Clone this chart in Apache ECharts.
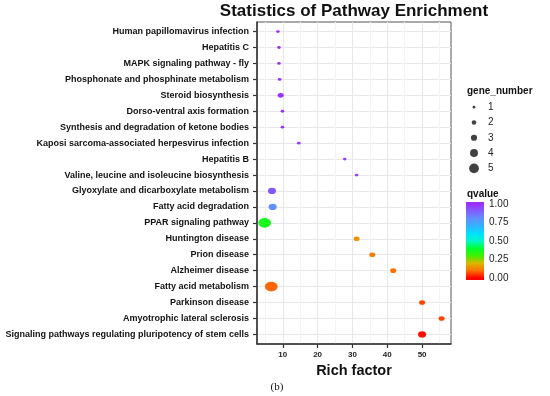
<!DOCTYPE html>
<html><head><meta charset="utf-8">
<script src="https://cdn.jsdelivr.net/npm/echarts@6/dist/echarts.min.js"></script>
<style>html,body{margin:0;padding:0;background:#fff}#c{width:550px;height:396px}</style>
</head><body><div id="c"></div>
<script>
const pathways = [
  'Human papillomavirus infection',
  'Hepatitis C',
  'MAPK signaling pathway - fly',
  'Phosphonate and phosphinate metabolism',
  'Steroid biosynthesis',
  'Dorso-ventral axis formation',
  'Synthesis and degradation of ketone bodies',
  'Kaposi sarcoma-associated herpesvirus infection',
  'Hepatitis B',
  'Valine, leucine and isoleucine biosynthesis',
  'Glyoxylate and dicarboxylate metabolism',
  'Fatty acid degradation',
  'PPAR signaling pathway',
  'Huntington disease',
  'Prion disease',
  'Alzheimer disease',
  'Fatty acid metabolism',
  'Parkinson disease',
  'Amyotrophic lateral sclerosis',
  'Signaling pathways regulating pluripotency of stem cells'
];
const richFactor = [8.6, 8.9, 8.9, 9.1, 9.4, 9.9, 9.9, 14.6, 27.8, 31.2, 6.9, 7.1, 4.8, 31.2, 35.7, 41.7, 6.7, 50.0, 55.6, 50.0];
const geneNumber = [1, 1, 1, 1, 2, 1, 1, 1, 1, 1, 3, 3, 5, 2, 2, 2, 5, 2, 2, 3];
const qvalue = [1.0, 1.0, 1.0, 1.0, 1.0, 1.0, 1.0, 0.98, 0.97, 0.97, 0.92, 0.8, 0.36, 0.15, 0.12, 0.1, 0.09, 0.06, 0.06, 0.01];
const xTicks = [10, 20, 30, 40, 50];
const xMinorTicks = [5, 15, 25, 35, 45, 55];
const sizeBreaks = [1, 2, 3, 4, 5];
const qTicks = [0, 0.25, 0.5, 0.75, 1];
const qColors = ['#ff0000', '#ff7000', '#d8b800', '#40f000', '#00ff30', '#00f8c8', '#00e0ff', '#30b4ff', '#6090ff', '#8060ff', '#9a30ff'];

const sizeTable = [2.8, 4.6, 6.2, 7.9, 9.8];
const STRETCH = 1.3;
const FONT = '"Liberation Sans", Arial, sans-serif';
const yIdx = pathways.map((p, i) => i);
const qMin = -0.027, qMax = 1.027;

const chart = echarts.init(document.getElementById('c'), null, {renderer: 'canvas'});
const gradStops = qColors.map((c, i) => ({offset: ((i / (qColors.length - 1)) - qMin) / (qMax - qMin), color: c}));

chart.setOption({
  animation: false,
  backgroundColor: '#fff',
  textStyle: {fontFamily: FONT},
  title: [
    {text: 'Statistics of Pathway Enrichment', left: 354, top: 3, textAlign: 'center', padding: 0,
     textStyle: {fontSize: 17, fontWeight: 'bold', color: '#111', fontFamily: FONT}},
    {text: 'gene_number', left: 467, top: 86, padding: 0,
     textStyle: {fontSize: 10, fontWeight: 'bold', color: '#111', fontFamily: FONT}},
    {text: 'qvalue', left: 467, top: 189, padding: 0,
     textStyle: {fontSize: 10, fontWeight: 'bold', color: '#111', fontFamily: FONT}},
    {text: '(b)', left: 277, top: 382, textAlign: 'center', padding: 0,
     textStyle: {fontSize: 11, fontWeight: 'normal', color: '#111', fontFamily: '"Liberation Serif", "Times New Roman", serif'}}
  ],
  grid: [
    {left: 257, right: 99, top: 22, bottom: 52, show: true, borderColor: '#555', borderWidth: 1, backgroundColor: '#fff'},
    {left: 466, width: 16, top: 99.5, height: 76.5},
    {left: 466, width: 18, top: 202, height: 78}
  ],
  visualMap: {
    type: 'continuous', show: false, min: 0, max: 1, dimension: 3, seriesIndex: 0,
    inRange: {color: qColors}
  },
  xAxis: [
    {gridIndex: 0, type: 'value', min: 2.6, max: 58.3,
     axisLine: {show: true, onZero: false, lineStyle: {color: '#333', width: 1.5}},
     axisTick: {show: true, length: 4, customValues: xTicks, lineStyle: {color: '#333', width: 1.2}},
     axisLabel: {customValues: xTicks, fontSize: 8, fontWeight: 'bold', color: '#222', margin: 7},
     splitLine: {show: true, lineStyle: {color: '#e8e8e8', width: 1}},
     name: 'Rich factor', nameLocation: 'middle', nameGap: 12,
     nameTextStyle: {fontSize: 14.5, fontWeight: 'bold', color: '#111'}},
    {gridIndex: 0, type: 'value', min: 2.6, max: 58.3, position: 'top',
     axisLine: {show: false, onZero: false}, axisTick: {show: false, customValues: xMinorTicks},
     axisLabel: {show: false, customValues: xMinorTicks},
     splitLine: {show: true, lineStyle: {color: '#f3f3f3', width: 1}}},
    {gridIndex: 1, type: 'value', min: 0, max: 1, show: false},
    {gridIndex: 2, type: 'value', min: 0, max: 1, show: false}
  ],
  yAxis: [
    {gridIndex: 0, type: 'value', min: -0.6, max: 19.6, inverse: true,
     axisLine: {show: true, onZero: false, lineStyle: {color: '#333', width: 1.5}},
     axisTick: {show: true, length: 4, customValues: yIdx, lineStyle: {color: '#333', width: 1.2}},
     axisLabel: {customValues: yIdx, fontSize: 9, fontWeight: 'bold', color: '#111', margin: 8,
                 formatter: v => pathways[Math.round(v)]},
     splitLine: {show: true, lineStyle: {color: '#e8e8e8', width: 1}}},
    {gridIndex: 1, type: 'value', min: 0.5, max: 5.5, inverse: true, position: 'right',
     axisLine: {show: false, onZero: false}, axisTick: {show: false, customValues: sizeBreaks},
     axisLabel: {customValues: sizeBreaks, fontSize: 10, color: '#222', margin: 6},
     splitLine: {show: false}},
    {gridIndex: 2, type: 'value', min: qMin, max: qMax, position: 'right',
     axisLine: {show: false, onZero: false},
     axisTick: {show: true, inside: true, length: 3, customValues: qTicks, lineStyle: {color: '#fff', width: 1}},
     axisLabel: {customValues: qTicks, fontSize: 10, color: '#222', margin: 5, formatter: v => v.toFixed(2)},
     splitLine: {show: false}}
  ],
  series: [
    {type: 'scatter', xAxisIndex: 0, yAxisIndex: 0,
     data: pathways.map((p, i) => [richFactor[i], i, geneNumber[i], qvalue[i]]),
     symbolSize: v => [sizeTable[v[2] - 1] * STRETCH, sizeTable[v[2] - 1]],
     itemStyle: {opacity: 1}, z: 5},
    {type: 'scatter', xAxisIndex: 2, yAxisIndex: 1,
     data: sizeBreaks.map(g => [0.5, g]),
     symbolSize: v => sizeTable[v[1] - 1],
     itemStyle: {color: '#111'}},
    {type: 'scatter', xAxisIndex: 3, yAxisIndex: 2,
     data: [[0.5, 0.5]], symbolSize: 0,
     markArea: {silent: true,
       itemStyle: {color: new echarts.graphic.LinearGradient(0, 1, 0, 0, gradStops)},
       data: [[{yAxis: qMin}, {yAxis: qMax}]]}}
  ]
});
</script>
</body></html>
